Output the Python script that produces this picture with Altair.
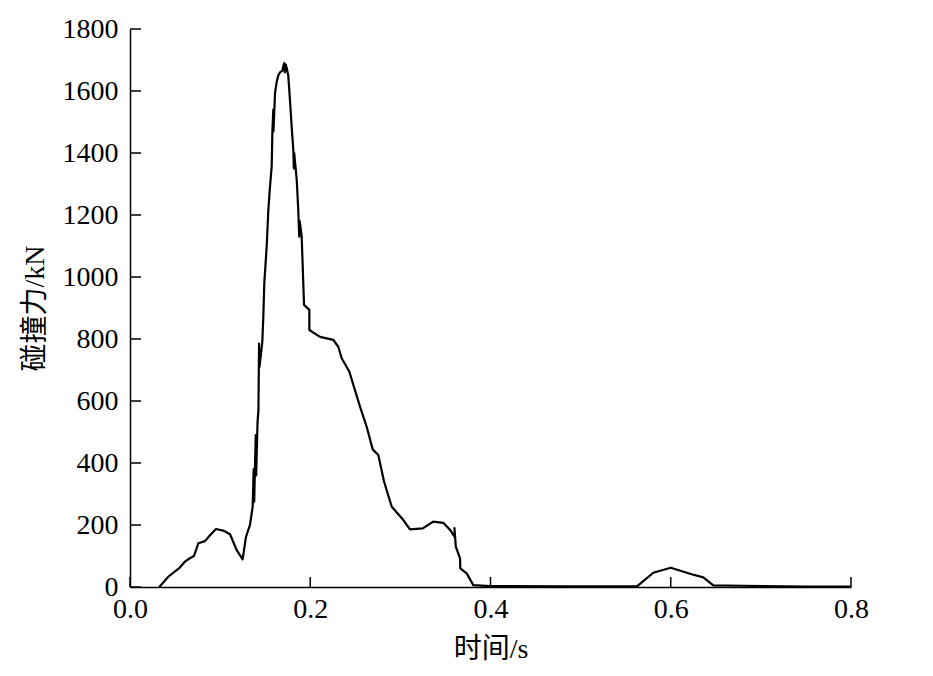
import altair as alt
import pandas as pd

# time (s) and impact force (kN)
t_s = [0.0325, 0.0425, 0.048, 0.055, 0.061, 0.066, 0.071, 0.0758, 0.0832, 0.089,
       0.0954, 0.1035, 0.111, 0.1184, 0.125, 0.1287, 0.1331, 0.1361, 0.1372, 0.1378,
       0.1395, 0.140, 0.1415, 0.1425, 0.1432, 0.1437, 0.1468, 0.1479, 0.149, 0.1517,
       0.1535, 0.1553, 0.1572, 0.158, 0.159, 0.1592, 0.1609, 0.1628, 0.1645, 0.1664,
       0.169, 0.1705, 0.1712, 0.1718, 0.1728, 0.1738, 0.1756, 0.1775, 0.1795, 0.1812,
       0.1818, 0.1822, 0.185, 0.1867, 0.1878, 0.1883, 0.1905, 0.1931, 0.199, 0.199,
       0.2108, 0.2256, 0.2311, 0.2349, 0.2433, 0.2552, 0.2626, 0.2693, 0.2755, 0.2818,
       0.2904, 0.3033, 0.3107, 0.3248, 0.3365, 0.3476, 0.355, 0.3606, 0.3600, 0.3615,
       0.3662, 0.3665, 0.3736, 0.3809, 0.3995, 0.48, 0.5629, 0.5806, 0.6, 0.6232,
       0.6361, 0.6472, 0.68, 0.75, 0.8]
force_kN = [0, 33, 46, 62, 82, 92, 100, 141, 148, 168,
            187, 182, 170, 119, 89, 162, 200, 259, 380, 275,
            490, 360, 530, 570, 785, 710, 790, 870, 980, 1100,
            1216, 1290, 1356, 1470, 1540, 1470, 1593, 1630, 1650, 1660,
            1665, 1685, 1690, 1660, 1685, 1675, 1650, 1571, 1480, 1410,
            1350, 1400, 1313, 1216, 1130, 1180, 1130, 910, 894, 829,
            807, 797, 775, 738, 695, 582, 517, 444, 426, 341,
            259, 216, 186, 189, 211, 207, 185, 160, 190, 130,
            92, 60, 44, 6, 3, 2, 3, 46, 62, 41,
            31, 5, 4, 1, 1]

x_ticks = [0.0, 0.2, 0.4, 0.6, 0.8]
y_ticks = [0, 200, 400, 600, 800, 1000, 1200, 1400, 1600, 1800]

df = pd.DataFrame({"t": t_s, "F": force_kN, "i": list(range(len(t_s)))})
dfx = pd.DataFrame({"t": x_ticks})
dfy = pd.DataFrame({"F": y_ticks})

FONT = "Liberation Serif, Times New Roman, Noto Sans CJK SC"
W, H = 721, 558

xscale = alt.Scale(domain=[0, 0.8], nice=False, zero=False)
yscale = alt.Scale(domain=[0, 1800], nice=False)

xaxis = alt.Axis(values=x_ticks, format=".1f", title="时间/s", ticks=False,
                 grid=False, labelFlush=False, labelOverlap=False, labelPadding=8,
                 titlePadding=12)
yaxis = alt.Axis(values=y_ticks, format="d", title="碰撞力/kN", ticks=False,
                 grid=False, labelFlush=False, labelOverlap=False, labelPadding=12,
                 titlePadding=13)

line = alt.Chart(df).mark_line(color="black", strokeWidth=2.2, strokeJoin="round").encode(
    x=alt.X("t:Q", scale=xscale, axis=xaxis),
    y=alt.Y("F:Q", scale=yscale, axis=yaxis),
    order="i:Q",
)

xt = alt.Chart(dfx).mark_rule(color="black", strokeWidth=1.5).encode(
    x=alt.X("t:Q", scale=xscale),
    y=alt.value(H),
    y2=alt.value(H - 10),
)
yt = alt.Chart(dfy).mark_rule(color="black", strokeWidth=1.5).encode(
    y=alt.Y("F:Q", scale=yscale),
    x=alt.value(0),
    x2=alt.value(11),
)

chart = alt.layer(xt, yt, line).properties(
    width=W, height=H,
    background="white",
    autosize=alt.AutoSizeParams(type="none"),
    padding={"left": 122, "top": 21, "right": 60, "bottom": 80},
).configure_view(stroke=None).configure_axis(
    domainColor="black", domainWidth=1.5,
    labelFont=FONT, titleFont=FONT,
    labelFontSize=28, titleFontSize=28,
    labelColor="black", titleColor="black",
    titleFontWeight="normal",
)

chart.save("out.html", embed_options={"renderer": "svg", "actions": False})
